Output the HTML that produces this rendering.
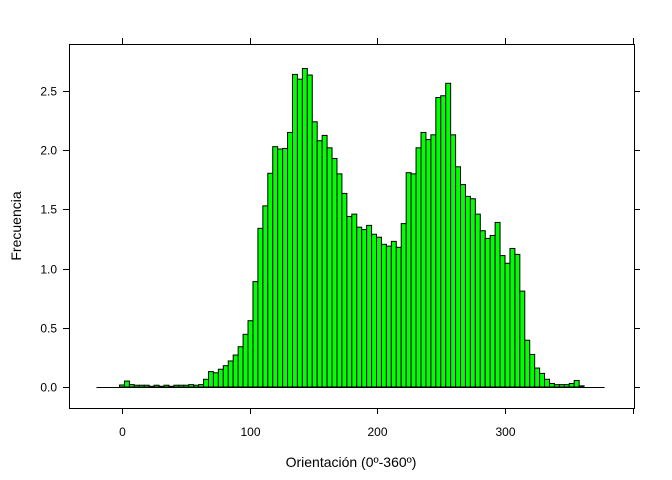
<!DOCTYPE html>
<html><head><meta charset="utf-8"><style>
body{margin:0;background:#fff}
svg{display:block;font-family:"Liberation Sans",Arial,sans-serif}
</style></head><body>
<svg id="chart" width="672" height="480">
<rect x="69.5" y="44.5" width="565" height="364" fill="none" stroke="#000"/>
<g id="bars"></g>
<g id="axes"></g>
<text x="351" y="467" font-size="14" text-anchor="middle" fill="#000">Orientación (0º-360º)</text>
<text x="0" y="0" font-size="14" text-anchor="middle" fill="#000" transform="translate(21,226) rotate(-90)">Frecuencia</text>
</svg>
<script>
const binStart = -360/186;
const binWidth = 360/93;
const freq = [0.017,0.05,0.02,0.015,0.015,0.015,0.006,0.015,0.006,0.015,0.006,0.015,0.015,0.015,0.02,0.015,0.02,0.065,0.13,0.12,0.15,0.18,0.22,0.27,0.34,0.445,0.56,0.89,
1.34,1.53,1.805,2.03,2.01,2.015,2.15,2.64,2.6,2.69,2.635,2.24,2.08,2.125,2.02,1.93,1.80,1.635,1.44,1.46,1.35,1.33,1.365,1.29,1.265,1.205,1.19,1.23,1.18,
1.38,1.81,1.80,2.02,2.15,2.09,2.13,2.445,2.46,2.565,2.13,1.86,1.71,1.61,1.59,1.46,1.32,1.255,1.28,1.39,1.11,1.045,1.17,1.12,0.81,0.395,0.275,0.16,0.115,0.065,0.03,0.02,0.02,0.02,0.03,0.055,0.01];
const xTicks = [0,100,200,300,400];
const xTickLabels = ["0","100","200","300",""];
const yTicks = [0,0.5,1,1.5,2,2.5];
const yTickLabels = ["0.0","0.5","1.0","1.5","2.0","2.5"];

const NS="http://www.w3.org/2000/svg";
const xs = v => 122 + v*1.2767;
const ys = v => 387 - v*118.4;
const bars=document.getElementById('bars'), axes=document.getElementById('axes');
function mk(tag,attrs,parent){const e=document.createElementNS(NS,tag);for(const k in attrs)e.setAttribute(k,attrs[k]);parent.appendChild(e);return e;}

const base=mk('line',{x1:xs(-20),x2:xs(378),y1:ys(0)+0.5,y2:ys(0)+0.5,stroke:'#000'},axes);



freq.forEach((f,i)=>{
  const x0=xs(binStart+i*binWidth), x1=xs(binStart+(i+1)*binWidth);
  const r=mk('rect',{x:x0,y:ys(f),width:x1-x0,height:ys(0)-ys(f),fill:'#00FF00',stroke:'#000','stroke-width':1},bars);
  
  
});

xTicks.forEach((t,i)=>{
  const x=Math.round(xs(t))+0.5;
  const a=mk('line',{x1:x,x2:x,y1:408,y2:414,stroke:'#000'},axes);
  
  
  const b=mk('line',{x1:x,x2:x,y1:38,y2:44,stroke:'#000'},axes);
  
  
  if(xTickLabels[i]){
    const tx=mk('text',{x:x,y:436,'font-size':12,'text-anchor':'middle',fill:'#000'},axes);
    tx.textContent=xTickLabels[i];
    
    
  }
});
yTicks.forEach((t,i)=>{
  const y=Math.round(ys(t))+0.5;
  const a=mk('line',{x1:63,x2:69,y1:y,y2:y,stroke:'#000'},axes);
  
  
  const b=mk('line',{x1:634,x2:640,y1:y,y2:y,stroke:'#000'},axes);
  
  
  const tx=mk('text',{x:57,y:y+4,'font-size':12,'text-anchor':'end',fill:'#000'},axes);
  tx.textContent=yTickLabels[i];
  
  
});
</script>
</body></html>
